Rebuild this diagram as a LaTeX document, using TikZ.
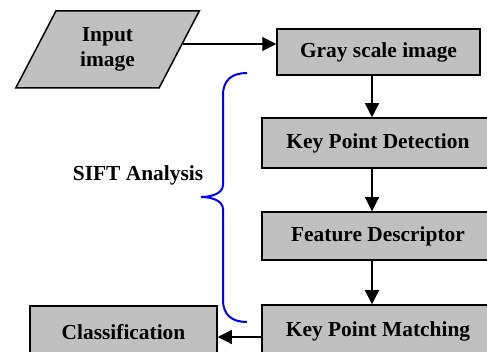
\documentclass[tikz,border=0pt]{standalone}
\usepackage{fontspec}
\setmainfont{Liberation Serif}
\usetikzlibrary{shapes.geometric,arrows.meta,calc}
\definecolor{boxgray}{RGB}{192,192,192}
\definecolor{braceblue}{RGB}{0,0,255}

\begin{document}
\begin{tikzpicture}[x=1pt,y=-1pt,
  box/.style={draw=black,line width=1.5pt,fill=boxgray,inner sep=0pt,
    font=\fontsize{21.4}{25}\selectfont\bfseries},
  flow/.style={line width=1.2pt,-{Triangle[length=14pt,width=14pt]}},
  label/.style={font=\fontsize{21.4}{25}\selectfont\bfseries},
  ]
\useasboundingbox (0,0) rectangle (487,352);
\clip (0,0) rectangle (487,352);

% input parallelogram
\node[box,shape=trapezium,trapezium left angle=64,trapezium right angle=116,
  trapezium stretches=true,minimum width=185pt,minimum height=77pt,align=center]
  (inp) at (107.5,49.5) {Input\\image};

% processing chain
\node[box,minimum width=203pt,minimum height=46pt] (gray) at (378.5,52) {Gray scale image};
\node[box,minimum width=232pt,minimum height=50pt] (kpd) at (378,143) {Key Point Detection};
\node[box,minimum width=232pt,minimum height=48pt] (fd) at (378,236) {Feature Descriptor};
\node[box,minimum width=232pt,minimum height=52pt] (kpm) at (378,331) {Key Point Matching};
\node[box,minimum width=187pt,minimum height=52pt] (cls) at (123.5,332) {Classification};

\node[label] (sift) at (138,175) {SIFT Analysis};

% connectors
\coordinate (ia) at ($(inp.top right corner)!0.43!(inp.bottom right corner)$);
\draw[flow] (ia) -- (ia -| gray.west);
\coordinate (ax) at (372,0);
\draw[flow] (ax |- gray.south) -- (ax |- kpd.north);
\draw[flow] (ax |- kpd.south) -- (ax |- fd.north);
\draw[flow] (ax |- fd.south) -- (ax |- kpm.north);
\coordinate (ly) at (0,337);
\draw[flow] (ly -| kpm.west) -- (ly -| cls.east);

% brace grouping the SIFT steps
\draw[braceblue,line width=2pt]
  (247,73) .. controls (232,73) and (223,80) .. (223,95)
  -- (223,185) .. controls (223,194) and (210,197) .. (201,197)
  .. controls (210,197) and (223,200) .. (223,209)
  -- (223,300) .. controls (223,315) and (232,322) .. (247,322);
\end{tikzpicture}
\end{document}
